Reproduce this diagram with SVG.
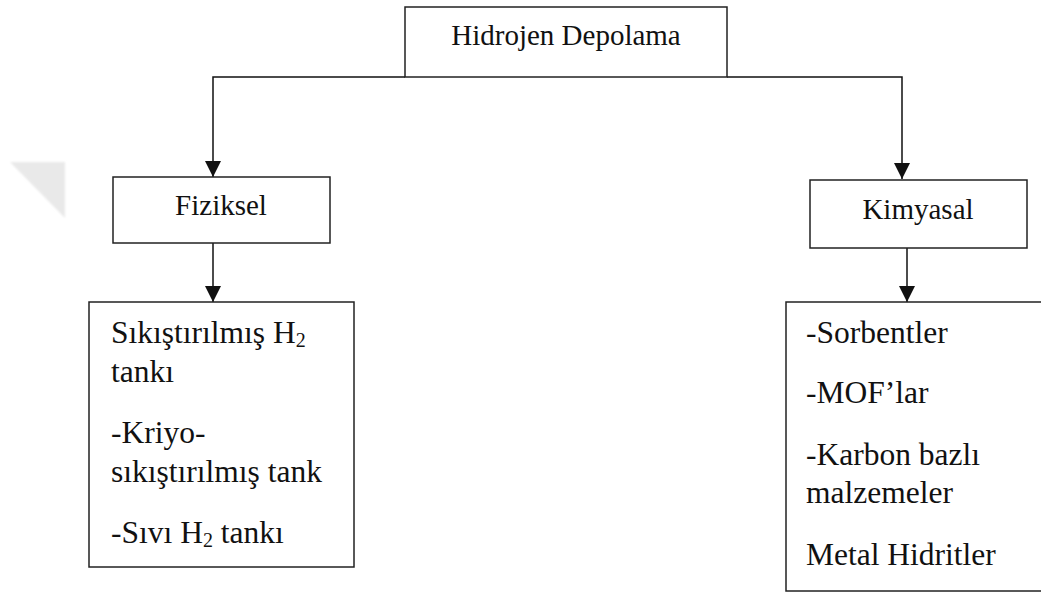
<svg xmlns="http://www.w3.org/2000/svg" width="1041" height="594" viewBox="0 0 1041 594">
<style>
.box{fill:#fff;stroke:#222;stroke-width:1.5}
.conn{fill:none;stroke:#111;stroke-width:1.5}
.h{font-family:"Liberation Serif","Times New Roman",serif;font-size:29px;fill:#111}
.t{font-family:"Liberation Serif","Times New Roman",serif;font-size:31.5px;fill:#111}
.sub{font-size:20px}
</style>
<defs>
<marker id="arr" markerUnits="userSpaceOnUse" markerWidth="16" markerHeight="16" viewBox="0 0 14 14" refX="14" refY="7" orient="auto">
<path d="M0,0 L14,7 L0,14 Z" fill="#111"/>
</marker>
<filter id="blur"><feGaussianBlur stdDeviation="1.2"/></filter>
</defs>
<rect width="1041" height="594" fill="#fff"/>
<polygon points="10,162 65,162 65,218" fill="#e9e9e9" filter="url(#blur)"/>
<g id="connectors">
<path class="conn" d="M405,77 H213 V177" marker-end="url(#arr)"/>
<path class="conn" d="M727,77 H902 V179" marker-end="url(#arr)"/>
<path class="conn" d="M213,243 V302" marker-end="url(#arr)"/>
<path class="conn" d="M907,244 V302" marker-end="url(#arr)"/>
</g>
<g id="node-root">
<rect class="box" x="405" y="7" width="322" height="70"/>
<text class="h" x="566" y="45" text-anchor="middle">Hidrojen Depolama</text>
</g>
<g id="node-fiziksel">
<rect class="box" x="113" y="177" width="217" height="66"/>
<text class="h" x="221" y="215" text-anchor="middle">Fiziksel</text>
</g>
<g id="node-kimyasal">
<rect class="box" x="810" y="180" width="217" height="68"/>
<text class="h" x="918" y="219" text-anchor="middle">Kimyasal</text>
</g>
<g id="node-fiziksel-list">
<rect class="box" x="89" y="302" width="265" height="265"/>
<text class="t" x="111" y="343">Sıkıştırılmış H<tspan class="sub" dy="4">2</tspan></text>
<text class="t" x="111" y="382">tankı</text>
<text class="t" x="111" y="443">-Kriyo-</text>
<text class="t" x="111" y="482">sıkıştırılmış tank</text>
<text class="t" x="111" y="543">-Sıvı H<tspan class="sub" dy="4">2</tspan><tspan dy="-4"> tankı</tspan></text>
</g>
<g id="node-kimyasal-list">
<rect class="box" x="786" y="302" width="262" height="289"/>
<text class="t" x="806" y="343">-Sorbentler</text>
<text class="t" x="806" y="403">-MOF’lar</text>
<text class="t" x="806" y="465">-Karbon bazlı</text>
<text class="t" x="806" y="503">malzemeler</text>
<text class="t" x="806" y="565">Metal Hidritler</text>
</g>
</svg>
